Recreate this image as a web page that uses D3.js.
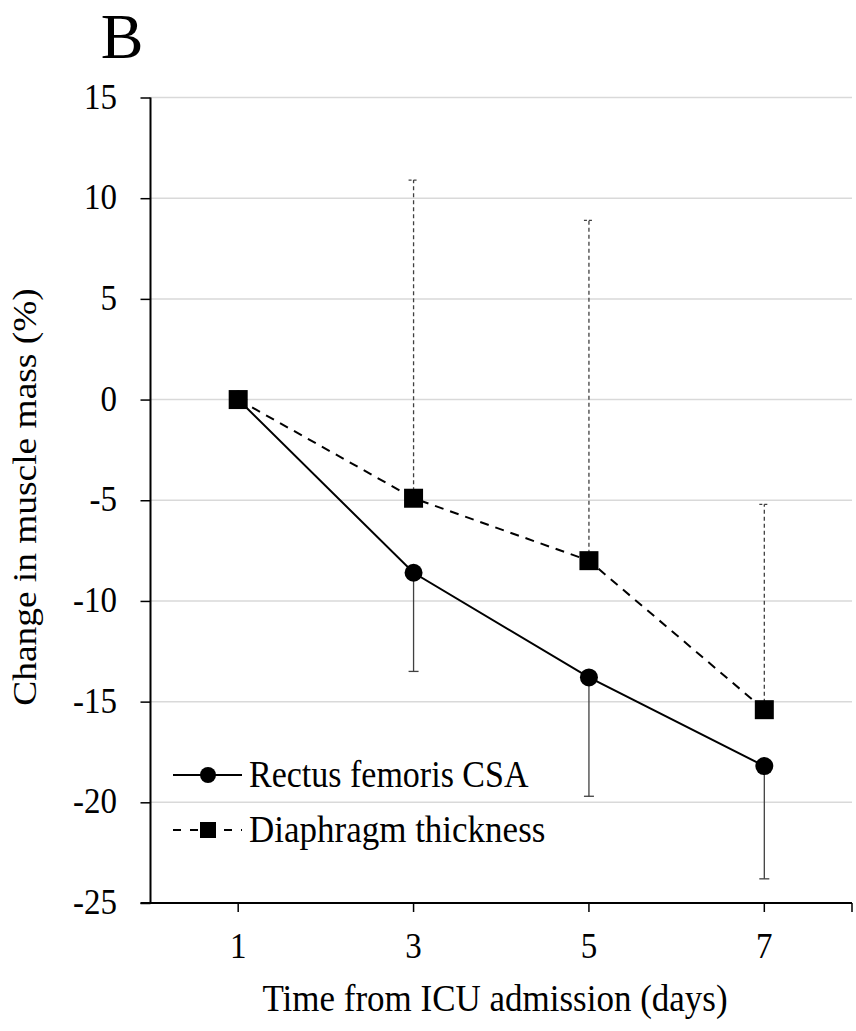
<!DOCTYPE html>
<html><head><meta charset="utf-8">
<script src="https://cdn.jsdelivr.net/npm/d3@7"></script>
<style>body{margin:0;background:#fff}svg{display:block;font-family:"Liberation Serif","Times New Roman",serif}</style>
</head><body>
<svg id="c" width="856" height="1031"></svg>
<script>
const days = ["1","3","5","7"];
const rectus = [0, -8.6, -13.8, -18.2];
const rectusLower = [null, -13.5, -19.7, -23.8];
const diaphragm = [0, -4.9, -8.0, -15.4];
const diaphragmUpper = [null, 10.9, 8.9, -5.2];
const yTicks = [15, 10, 5, 0, -5, -10, -15, -20, -25];
const seriesNames = ["Rectus femoris CSA", "Diaphragm thickness"];

const SY = 1.1; // vertical stretch of text
const svg = d3.select("#c");
const L = 150.5, R = 852, T = 97.5, B = 903;
const x = d3.scaleBand().domain(days).range([L, R]);
const cx = d => x(d) + x.bandwidth()/2;
const y = d3.scaleLinear().domain([-25, 15]).range([B, T]);

function txt(g, px, py, s, size, anchor, rot, sy) {
  const k = sy === undefined ? SY : sy;
  return g.append("text")
    .attr("transform", `translate(${px},${py})` + (rot ? ` rotate(${rot}) scale(${k},1)` : ` scale(1,${k})`))
    .attr("text-anchor", anchor || "start").attr("font-size", size).attr("fill", "#000").text(s);
}

// gridlines
svg.append("g").selectAll("line").data(yTicks.filter(t => t !== -25)).join("line")
  .attr("x1", L).attr("x2", R).attr("y1", d => y(d)).attr("y2", d => y(d))
  .attr("stroke", "#d9d9d9").attr("stroke-width", 1.5);

// y axis
const yAxis = svg.append("g").attr("transform", `translate(${L},0)`)
  .call(d3.axisLeft(y).tickValues(yTicks).tickSize(10).tickFormat(""));
yAxis.select(".domain").attr("stroke", "#000").attr("stroke-width", 2).attr("d", `M0,${T}V${B}`);
yAxis.selectAll(".tick line").attr("stroke", "#000").attr("stroke-width", 1.5);
const yl = svg.append("g");
yTicks.forEach(t => txt(yl, 117, y(t) + 11, String(t), 33, "end"));

// x axis
const xAxisG = svg.append("g").attr("transform", `translate(0,${B})`);
xAxisG.append("line").attr("x1", L - 10).attr("x2", R).attr("stroke", "#000").attr("stroke-width", 2);
xAxisG.selectAll("line.tk").data(days).join("line").attr("class", "tk")
  .attr("x1", d => cx(d)).attr("x2", d => cx(d)).attr("y1", 0).attr("y2", 9)
  .attr("stroke", "#000").attr("stroke-width", 1.5);
xAxisG.append("line").attr("x1", R).attr("x2", R).attr("y1", 0).attr("y2", 9).attr("stroke", "#000").attr("stroke-width", 1.5);
const xl = svg.append("g");
days.forEach(d => txt(xl, cx(d), 958, d, 33, "middle"));

// error bars
function errBars(vals, ends, dashed) {
  const g = svg.append("g").attr("stroke", "#404040").attr("stroke-width", 1.3);
  days.forEach((d, i) => {
    if (ends[i] === null) return;
    const line = g.append("line").attr("x1", cx(d)).attr("x2", cx(d)).attr("y1", y(vals[i])).attr("y2", y(ends[i]));
    const cap = g.append("line").attr("x1", cx(d) - 5).attr("x2", cx(d) + 5).attr("y1", y(ends[i])).attr("y2", y(ends[i]));
    if (dashed) { line.attr("stroke-dasharray", "4,3"); cap.attr("stroke-dasharray", "3,2"); }
  });
}
errBars(diaphragm, diaphragmUpper, true);
errBars(rectus, rectusLower, false);

// lines
const lineGen = d3.line().x((v, i) => cx(days[i])).y(v => y(v));
svg.append("path").datum(diaphragm).attr("d", lineGen).attr("fill", "none")
  .attr("stroke", "#000").attr("stroke-width", 2).attr("stroke-dasharray", "9,7");
svg.append("path").datum(rectus).attr("d", lineGen).attr("fill", "none")
  .attr("stroke", "#000").attr("stroke-width", 2);

// markers
svg.append("g").selectAll("circle").data(rectus).join("circle")
  .attr("cx", (v, i) => cx(days[i])).attr("cy", v => y(v)).attr("r", 9).attr("fill", "#000");
svg.append("g").selectAll("rect").data(diaphragm).join("rect")
  .attr("x", (v, i) => cx(days[i]) - 9.5).attr("y", v => y(v) - 9.5)
  .attr("width", 19).attr("height", 19).attr("fill", "#000");

// legend
const lg = svg.append("g");
const ly1 = 775, ly2 = 830;
lg.append("line").attr("x1", 173).attr("x2", 242).attr("y1", ly1).attr("y2", ly1).attr("stroke", "#000").attr("stroke-width", 2);
lg.append("circle").attr("cx", 208).attr("cy", ly1).attr("r", 8).attr("fill", "#000");
txt(lg, 249, ly1 + 12, seriesNames[0], 34);
lg.append("line").attr("x1", 173).attr("x2", 242).attr("y1", ly2).attr("y2", ly2).attr("stroke", "#000").attr("stroke-width", 2).attr("stroke-dasharray", "8,9");
lg.append("rect").attr("x", 200).attr("y", ly2 - 8).attr("width", 16).attr("height", 16).attr("fill", "#000");
txt(lg, 249, ly2 + 12, seriesNames[1], 35);

// titles
txt(svg, 122, 58, "B", 64, "middle", 0, 1);
txt(svg, 36, 497, "Change in muscle mass (%)", 34, "middle", -90);
txt(svg, 495, 1011, "Time from ICU admission (days)", 35, "middle");
</script>
</body></html>
